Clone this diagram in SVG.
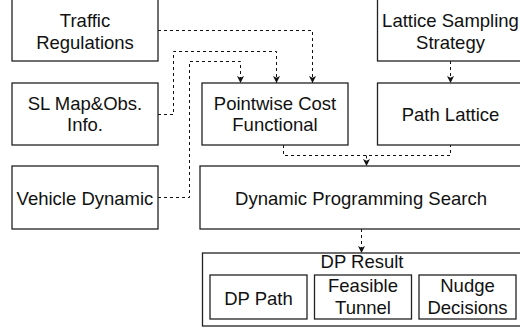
<svg xmlns="http://www.w3.org/2000/svg" width="520" height="330" viewBox="0 0 520 330">
<defs>
<style>
.box{fill:#fff;stroke:#222;stroke-width:1.3}
.t{font-family:"Liberation Sans",Arial,Helvetica,sans-serif;font-size:18.5px;fill:#111;text-anchor:middle}
.c{fill:none;stroke:#111;stroke-width:1;stroke-dasharray:3 3}
</style>
<marker id="ah" viewBox="0 0 10 10" refX="10" refY="5" markerWidth="7" markerHeight="7" markerUnits="userSpaceOnUse" orient="auto">
<path d="M0,0 L10,5 L0,10 L2.5,5 Z" fill="#111"/>
</marker>
</defs>
<rect width="520" height="330" fill="#fff"/>
<g id="connectors">
<path class="c" d="M158,30.5 H312.5 V83" marker-end="url(#ah)"/>
<path class="c" d="M158,114.5 H173.5 V51.5 H276.5 V83" marker-end="url(#ah)"/>
<path class="c" d="M158,197.5 H189.5 V61.5 H240.5 V83" marker-end="url(#ah)"/>
<path class="c" d="M450.5,61 V83" marker-end="url(#ah)"/>
<path class="c" d="M283.5,145 V155.5 H450.5 V145"/>
<path class="c" d="M366.5,155.5 V166" marker-end="url(#ah)"/>
<path class="c" d="M361.5,229 V253" marker-end="url(#ah)"/>
</g>
<g id="traffic">
<rect class="box" x="12" y="-2" width="146" height="63"/>
<text class="t" x="85" y="27">Traffic</text>
<text class="t" x="85" y="48.5">Regulations</text>
</g>
<g id="lattice-sampling">
<rect class="box" x="377.5" y="-2" width="146" height="63"/>
<text class="t" x="450.5" y="27">Lattice Sampling</text>
<text class="t" x="450.5" y="48.5">Strategy</text>
</g>
<g id="slmap">
<rect class="box" x="12" y="83" width="146" height="62"/>
<text class="t" x="85" y="110">SL Map&amp;Obs.</text>
<text class="t" x="85" y="131">Info.</text>
</g>
<g id="pointwise">
<rect class="box" x="202" y="83" width="146" height="62"/>
<text class="t" x="275" y="110">Pointwise Cost</text>
<text class="t" x="275" y="131">Functional</text>
</g>
<g id="path-lattice">
<rect class="box" x="377.5" y="83" width="146" height="62"/>
<text class="t" x="450.5" y="121">Path Lattice</text>
</g>
<g id="vehicle">
<rect class="box" x="12" y="166" width="146" height="63"/>
<text class="t" x="85" y="204.5">Vehicle Dynamic</text>
</g>
<g id="dps">
<rect class="box" x="200" y="166" width="323" height="63"/>
<text class="t" x="361" y="204.5">Dynamic Programming Search</text>
</g>
<g id="dp-result">
<rect class="box" x="202.5" y="253" width="320" height="73"/>
<text class="t" x="362" y="267.5">DP Result</text>
</g>
<g id="dp-path">
<rect class="box" x="210" y="275" width="97" height="44"/>
<text class="t" x="258.5" y="304.5">DP Path</text>
</g>
<g id="feasible-tunnel">
<rect class="box" x="314.5" y="275" width="97" height="44"/>
<text class="t" x="363" y="292">Feasible</text>
<text class="t" x="363" y="313.5">Tunnel</text>
</g>
<g id="nudge">
<rect class="box" x="419" y="275" width="97" height="44"/>
<text class="t" x="467.5" y="292">Nudge</text>
<text class="t" x="467.5" y="313.5">Decisions</text>
</g>
</svg>
